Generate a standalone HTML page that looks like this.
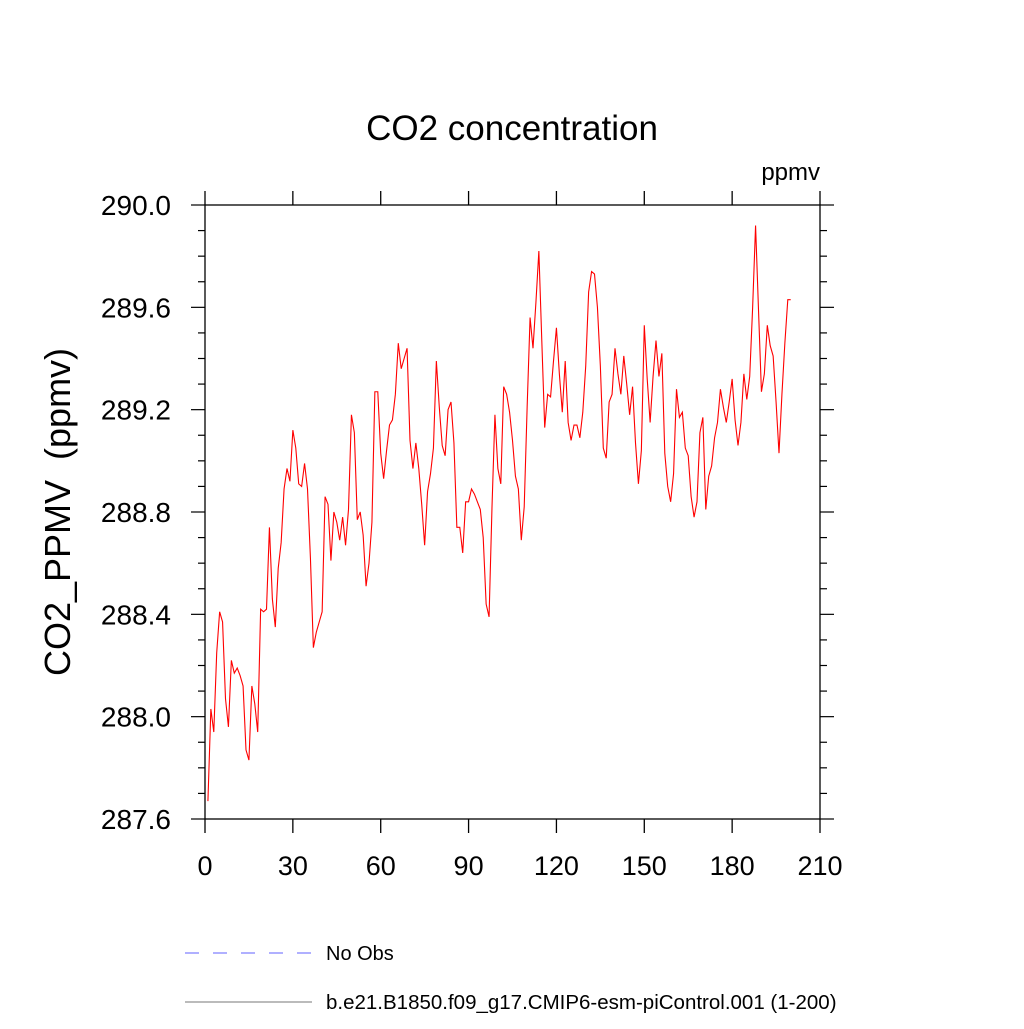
<!DOCTYPE html>
<html><head><meta charset="utf-8"><style>
html,body{margin:0;padding:0;background:#fff;}
svg text{font-family:"Liberation Sans",Arial,sans-serif;fill:#000;}
</style></head><body>
<svg id="chart" width="1024" height="1024" viewBox="0 0 1024 1024" xmlns="http://www.w3.org/2000/svg">
<text x="512" y="140" font-size="35" text-anchor="middle">CO2 concentration</text>
<text x="820" y="180" font-size="24" text-anchor="end">ppmv</text>
<text transform="translate(70,512) rotate(-90)" font-size="36" text-anchor="middle">CO2_PPMV&#160;&#160;(ppmv)</text>
<g id="axes"></g>
<g id="series"></g>
<g>
<line x1="185" y1="953" x2="315" y2="953" stroke="#6060ff" stroke-width="1" stroke-dasharray="14,14"/>
<text x="326" y="960" font-size="20">No Obs</text>
<line x1="185" y1="1002" x2="312" y2="1002" stroke="#777" stroke-width="1"/>
<text x="326" y="1009" font-size="20.5">b.e21.B1850.f09_g17.CMIP6-esm-piControl.001 (1-200)</text>
</g>
</svg>
<script>
const years = Array.from({length:200},(_, i)=>i+1);
const co2 = [
287.67,288.03,287.94,288.25,288.41,288.37,288.07,287.96,288.22,288.17,
288.19,288.16,288.12,287.87,287.83,288.12,288.05,287.94,288.42,288.41,
288.42,288.74,288.46,288.35,288.58,288.68,288.89,288.97,288.92,289.12,
289.05,288.91,288.90,288.99,288.89,288.62,288.27,288.33,288.37,288.41,
288.86,288.83,288.61,288.80,288.76,288.69,288.78,288.67,288.81,289.18,
289.11,288.77,288.80,288.71,288.51,288.60,288.76,289.27,289.27,289.03,
288.93,289.04,289.14,289.16,289.26,289.46,289.36,289.40,289.44,289.08,
288.97,289.07,288.97,288.83,288.67,288.88,288.95,289.05,289.39,289.21,
289.06,289.02,289.20,289.23,289.07,288.74,288.74,288.64,288.84,288.84,
288.89,288.87,288.84,288.81,288.70,288.44,288.39,288.82,289.18,288.97,
288.91,289.29,289.26,289.19,289.08,288.94,288.89,288.69,288.82,289.21,
289.56,289.44,289.62,289.82,289.47,289.13,289.26,289.25,289.39,289.52,
289.34,289.19,289.39,289.15,289.08,289.14,289.14,289.09,289.19,289.37,
289.66,289.74,289.73,289.60,289.37,289.05,289.01,289.23,289.26,289.44,
289.34,289.26,289.41,289.30,289.18,289.29,289.07,288.91,289.04,289.53,
289.32,289.15,289.33,289.47,289.33,289.42,289.03,288.90,288.84,288.95,
289.28,289.17,289.19,289.05,289.02,288.86,288.78,288.84,289.11,289.17,
288.81,288.94,288.98,289.09,289.15,289.28,289.21,289.15,289.23,289.32,
289.16,289.06,289.15,289.34,289.24,289.33,289.60,289.92,289.59,289.27,
289.34,289.53,289.45,289.41,289.23,289.03,289.26,289.46,289.63,289.63];
const xTicks = [0,30,60,90,120,150,180,210];
const yTicks = [287.6,288.0,288.4,288.8,289.2,289.6,290.0];
const yTickLabels = ["287.6","288.0","288.4","288.8","289.2","289.6","290.0"];

const L=205,R=820,T=205,B=819;
const xMin=0,xMax=210,yMin=287.6,yMax=290.0;
const xs=v=>L+(v-xMin)/(xMax-xMin)*(R-L);
const ys=v=>B-(v-yMin)/(yMax-yMin)*(B-T);
const NS="http://www.w3.org/2000/svg";
function mk(tag,attrs,parent){const e=document.createElementNS(NS,tag);for(const k in attrs)e.setAttribute(k,attrs[k]);parent.appendChild(e);return e;}
const ax=document.getElementById('axes');
const frame=mk('rect',{x:L,y:T,width:R-L,height:B-T,fill:'none',stroke:'#000','stroke-width':1.3},ax);


xTicks.forEach(t=>{
  const x=xs(t);
  const a=mk('line',{x1:x,y1:B,x2:x,y2:B+14,stroke:'#000','stroke-width':1.3},ax);
  
  
  const b=mk('line',{x1:x,y1:T,x2:x,y2:T-14,stroke:'#000','stroke-width':1.3},ax);
  
  
  const tx=mk('text',{x:x,y:B+56,'font-size':27,'text-anchor':'middle'},ax);
  tx.textContent=String(t);
  
  
});
for(let v=yMin;v<=yMax+1e-6;v+=0.1){
  const y=ys(v);
  const major=Math.abs((v-yMin)/0.4-Math.round((v-yMin)/0.4))<1e-6;
  const len=major?14:7;
  const a=mk('line',{x1:L-len,y1:y,x2:L,y2:y,stroke:'#000','stroke-width':1.2},ax);
  
  
  const b=mk('line',{x1:R,y1:y,x2:R+len,y2:y,stroke:'#000','stroke-width':1.2},ax);
  
  
}
yTicks.forEach((t,i)=>{
  const tx=mk('text',{x:L-34,y:ys(t)+10,'font-size':28,'text-anchor':'end'},ax);
  tx.textContent=yTickLabels[i];
  
  
});
const d=co2.map((v,i)=>(i?'L':'M')+xs(years[i]).toFixed(2)+','+ys(v).toFixed(2)).join(' ');
const line=mk('path',{d:d,fill:'none',stroke:'#ff0000','stroke-width':1.1},document.getElementById('series'));


</script>
</body></html>
